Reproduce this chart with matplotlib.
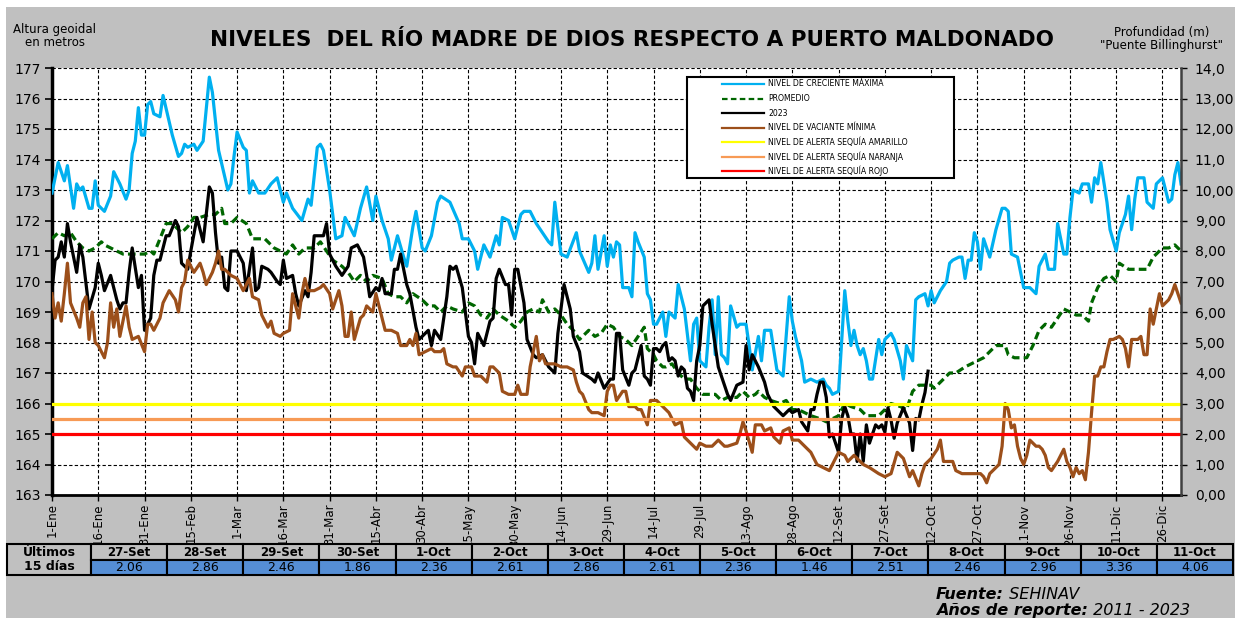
import matplotlib.pyplot as plt
from matplotlib.patches import Rectangle
from matplotlib.lines import Line2D
from matplotlib.text import Annotation

plt.rcParams['font.family'] = ['DejaVu Sans']

# ---- data (altura geoidal en metros, dia del anio) ----
maxima = [
    (0, 172.9), (2, 173.9), (4, 173.3), (5, 173.8), (7, 172.4), (8, 173.2), (9, 173.0), (10, 173.1), (12, 172.4), (13, 172.4),
    (14, 173.3), (15, 172.5), (17, 172.3), (19, 172.8), (20, 173.6), (22, 173.2), (24, 172.7), (25, 173.0), (26, 174.2), (27, 174.6),
    (28, 175.7), (29, 174.8), (30, 174.8), (31, 175.8), (32, 175.9), (33, 175.5), (35, 175.4), (36, 176.1), (39, 174.8), (41, 174.1),
    (42, 174.2), (43, 174.5), (44, 174.4), (46, 174.5), (47, 174.3), (49, 174.6), (51, 176.7), (52, 176.2), (54, 174.3), (57, 173.0),
    (58, 173.2), (59, 174.1), (60, 174.9), (62, 174.4), (63, 174.3), (64, 172.9), (65, 173.3), (67, 172.9), (69, 172.9), (71, 173.2),
    (73, 173.4), (75, 172.6), (76, 172.9), (78, 172.4), (81, 172.0), (83, 172.7), (84, 172.5), (86, 174.4), (87, 174.5), (88, 174.3),
    (90, 173.0), (92, 171.4), (94, 171.5), (95, 172.1), (97, 171.7), (98, 171.5), (100, 172.4), (102, 173.1), (104, 172.0), (105, 172.8),
    (107, 172.0), (109, 171.4), (110, 170.7), (112, 171.5), (114, 170.8), (115, 170.5), (117, 171.8), (118, 172.3), (120, 171.1), (121, 171.0),
    (123, 171.5), (125, 172.6), (126, 172.8), (129, 172.6), (132, 171.9), (133, 171.4), (135, 171.4), (137, 171.0), (138, 170.4), (140, 171.2),
    (142, 170.8), (144, 171.5), (145, 171.2), (146, 172.1), (148, 172.0), (150, 171.4), (152, 172.2), (153, 172.3), (155, 172.3), (157, 171.9),
    (159, 171.6), (161, 171.3), (162, 171.2), (163, 172.6), (165, 170.9), (167, 170.8), (170, 171.6), (171, 171.0), (174, 170.3), (175, 170.6),
    (176, 171.5), (177, 170.4), (179, 171.5), (180, 170.5), (181, 171.2), (182, 170.8), (183, 171.3), (184, 171.2), (185, 169.8), (187, 169.8),
    (188, 169.5), (189, 171.6), (190, 171.3), (192, 170.8), (193, 169.6), (194, 169.4), (195, 168.6), (196, 168.6), (198, 169.0), (199, 168.2),
    (200, 169.0), (202, 168.8), (203, 169.9), (205, 169.1), (207, 167.4), (208, 168.6), (209, 168.8), (210, 167.4), (212, 167.2), (213, 168.5),
    (214, 169.4), (215, 167.6), (216, 169.5), (217, 167.6), (218, 167.5), (219, 167.3), (220, 169.2), (222, 168.5), (223, 168.6), (225, 168.6),
    (226, 167.9), (227, 167.1), (229, 168.2), (230, 167.4), (231, 168.4), (233, 168.4), (235, 167.1), (237, 166.9), (239, 169.5), (240, 168.7),
    (241, 168.2), (243, 167.4), (244, 166.7), (246, 166.8), (248, 166.7), (250, 166.8), (251, 166.6), (252, 166.5), (253, 166.3), (255, 166.4),
    (257, 169.7), (258, 168.7), (259, 167.9), (260, 168.4), (261, 167.9), (262, 167.6), (263, 167.8), (264, 167.4), (265, 166.8), (266, 166.8),
    (268, 168.1), (269, 167.6), (270, 168.1), (272, 168.3), (273, 168.1), (275, 167.4), (276, 166.8), (277, 167.9), (279, 167.4), (280, 169.4),
    (281, 169.5), (283, 169.6), (284, 169.2), (285, 169.7), (286, 169.3), (288, 169.7), (290, 170.0), (291, 170.6), (292, 170.7), (294, 170.8),
    (295, 170.8), (296, 170.1), (297, 170.7), (298, 170.7), (299, 171.6), (300, 171.3), (301, 170.4), (302, 171.4), (303, 171.1), (304, 170.8),
    (306, 171.7), (308, 172.4), (309, 172.4), (310, 172.3), (311, 170.9), (313, 170.8), (314, 170.3), (315, 169.8), (317, 169.8), (319, 169.6),
    (320, 170.5), (322, 170.9), (323, 170.4), (325, 170.4), (326, 171.9), (328, 170.9), (329, 170.9), (330, 172.1), (331, 173.0), (333, 172.9),
    (334, 173.2), (336, 173.2), (337, 172.6), (338, 173.4), (339, 173.2), (340, 173.9), (342, 172.6), (343, 171.7), (345, 171.0), (346, 171.6),
    (348, 172.2), (349, 172.8), (350, 171.7), (351, 172.7), (352, 173.4), (354, 173.4), (355, 172.6), (357, 172.4), (358, 173.2), (360, 173.4),
    (362, 172.6), (363, 172.7), (364, 173.5), (365, 173.9), (366, 173.2),
]

promedio = [
    (0, 171.4), (2, 171.6), (4, 171.5), (6, 171.6), (8, 171.3), (10, 171.1), (12, 171.0), (14, 171.1), (16, 171.3), (17, 171.2),
    (19, 171.1), (21, 171.0), (23, 170.9), (25, 170.9), (27, 170.9), (30, 170.9), (32, 171.0), (33, 170.9), (35, 171.4), (37, 171.9),
    (39, 171.9), (42, 171.6), (44, 171.8), (46, 172.1), (48, 172.1), (51, 172.2), (53, 172.2), (55, 172.4), (56, 171.9), (58, 171.9),
    (60, 172.1), (63, 171.9), (65, 171.4), (67, 171.4), (69, 171.4), (72, 171.1), (74, 171.0), (76, 170.9), (78, 171.2), (80, 170.9),
    (82, 171.1), (85, 171.1), (87, 171.3), (89, 171.0), (91, 170.7), (94, 170.5), (96, 170.3), (98, 170.0), (100, 170.2), (102, 170.0),
    (104, 170.2), (107, 170.1), (109, 169.6), (111, 169.5), (113, 169.5), (115, 169.3), (117, 169.6), (120, 169.4), (122, 169.2), (124, 169.2),
    (126, 169.0), (128, 169.2), (130, 169.1), (133, 169.0), (135, 169.3), (137, 169.2), (139, 168.9), (141, 168.8), (143, 169.1), (145, 168.9),
    (148, 168.7), (150, 168.5), (152, 168.7), (154, 169.0), (156, 169.1), (158, 169.0), (159, 169.4), (161, 169.0), (163, 169.1), (165, 168.9),
    (167, 168.6), (169, 168.4), (171, 168.1), (174, 168.4), (176, 168.2), (178, 168.3), (180, 168.6), (182, 168.5), (184, 168.2), (186, 168.1),
    (188, 167.9), (190, 168.2), (192, 168.5), (193, 167.8), (195, 167.6), (196, 167.4), (198, 167.2), (199, 167.2), (201, 167.3), (203, 167.0),
    (205, 166.8), (207, 166.8), (209, 166.5), (211, 166.3), (213, 166.3), (215, 166.3), (217, 166.1), (219, 166.2), (222, 166.2), (224, 166.4),
    (226, 166.2), (228, 166.3), (229, 166.4), (231, 166.2), (233, 166.1), (236, 166.0), (238, 166.1), (240, 165.8), (242, 165.8), (244, 165.7),
    (246, 165.6), (249, 165.5), (251, 165.4), (253, 165.5), (255, 165.6), (257, 166.0), (259, 165.9), (262, 165.8), (264, 165.6), (266, 165.6),
    (268, 165.6), (270, 165.8), (272, 166.0), (275, 165.9), (277, 165.8), (279, 166.4), (281, 166.6), (283, 166.6), (285, 166.6), (286, 166.5),
    (289, 166.8), (291, 167.0), (293, 167.0), (296, 167.2), (298, 167.3), (300, 167.4), (302, 167.5), (304, 167.7), (306, 167.9), (309, 167.9),
    (310, 167.6), (312, 167.5), (314, 167.5), (316, 167.5), (318, 167.9), (320, 168.4), (322, 168.6), (324, 168.5), (326, 168.8), (328, 169.1),
    (330, 169.0), (332, 168.9), (334, 168.9), (336, 168.7), (337, 169.3), (339, 169.8), (341, 170.1), (343, 170.2), (345, 170.0), (346, 170.6),
    (349, 170.4), (351, 170.4), (353, 170.4), (355, 170.4), (357, 170.8), (360, 171.1), (362, 171.1), (364, 171.2), (366, 171.0),
]

anio_2023 = [
    (0, 169.7), (1, 170.7), (2, 170.8), (3, 171.3), (4, 170.8), (5, 171.9), (6, 171.3), (8, 170.3), (9, 171.2), (10, 170.8),
    (12, 169.1), (14, 169.8), (15, 170.6), (16, 170.2), (17, 169.7), (19, 170.2), (21, 169.4), (22, 169.1), (23, 169.3), (24, 169.3),
    (25, 170.3), (26, 171.1), (28, 169.8), (29, 170.2), (30, 168.4), (32, 168.8), (33, 170.2), (34, 170.7), (35, 170.7), (37, 171.5),
    (38, 171.5), (40, 172.0), (41, 171.8), (42, 170.6), (44, 170.4), (45, 171.0), (47, 172.1), (48, 171.7), (49, 171.3), (51, 173.1),
    (52, 172.9), (53, 171.6), (54, 170.6), (55, 170.8), (56, 169.8), (57, 169.7), (58, 171.0), (60, 171.0), (62, 170.6), (63, 169.7),
    (65, 171.1), (66, 169.7), (67, 169.8), (68, 170.5), (70, 170.4), (71, 170.3), (73, 170.0), (74, 169.9), (75, 170.7), (76, 170.1),
    (78, 170.2), (79, 169.6), (80, 169.2), (82, 169.7), (83, 169.5), (84, 170.3), (85, 171.5), (87, 171.5), (88, 171.5), (89, 171.9),
    (90, 170.9), (92, 170.5), (94, 170.2), (96, 170.5), (97, 171.1), (99, 171.2), (101, 170.8), (102, 170.2), (103, 169.5), (105, 169.8),
    (106, 169.7), (107, 170.1), (108, 169.6), (110, 169.6), (111, 170.4), (112, 170.4), (113, 170.9), (115, 169.9), (116, 169.6), (118, 168.5),
    (119, 168.1), (122, 168.4), (123, 167.9), (124, 168.4), (126, 168.1), (128, 169.5), (129, 170.5), (130, 170.4), (131, 170.5), (133, 169.8),
    (135, 168.2), (136, 168.0), (137, 167.3), (138, 168.3), (140, 167.9), (142, 168.7), (143, 168.8), (144, 170.1), (145, 170.4), (147, 169.9),
    (148, 169.9), (149, 168.9), (150, 170.4), (151, 170.4), (153, 169.3), (154, 168.1), (156, 167.6), (157, 167.5), (159, 167.6), (161, 167.2),
    (163, 167.0), (164, 168.3), (166, 169.9), (168, 169.1), (169, 168.2), (171, 167.7), (172, 167.0), (175, 166.8), (176, 166.7), (177, 167.0),
    (179, 166.5), (181, 166.8), (182, 166.8), (183, 168.3), (184, 168.3), (185, 167.1), (187, 166.6), (188, 167.0), (189, 167.1), (191, 167.9),
    (192, 166.9), (193, 166.8), (194, 166.6), (195, 167.8), (196, 167.8), (197, 167.7), (198, 167.9), (199, 168.0), (200, 167.4), (201, 167.5),
    (202, 167.4), (203, 166.9), (204, 167.2), (205, 167.1), (206, 166.5), (207, 166.4), (208, 166.1), (209, 167.4), (210, 167.9), (211, 169.2),
    (213, 169.4), (214, 168.6), (216, 167.2), (218, 166.6), (219, 166.3), (220, 166.1), (222, 166.6), (224, 166.7), (225, 167.9), (226, 167.1),
    (227, 167.6), (229, 167.2), (231, 166.7), (232, 166.3), (234, 165.9), (237, 165.6), (239, 165.8), (240, 165.7), (242, 165.8), (243, 165.4),
    (245, 165.1), (246, 165.8), (247, 165.8), (248, 166.3), (249, 166.7), (250, 166.7), (251, 166.2), (252, 164.9), (253, 165.0), (255, 164.4),
    (256, 165.5), (257, 165.9), (258, 165.6), (259, 165.0), (260, 165.0), (261, 164.1), (262, 165.0), (263, 164.1), (264, 165.3), (265, 164.7),
    (267, 165.3), (268, 165.2), (269, 165.3),
]

minima = [
    (0, 169.6), (1, 168.8), (2, 169.3), (3, 168.7), (4, 169.6), (5, 170.6), (6, 169.3), (8, 168.8), (9, 168.5), (10, 169.3),
    (11, 169.5), (12, 168.1), (13, 169.0), (14, 168.0), (15, 167.9), (17, 167.5), (18, 168.0), (19, 169.3), (20, 168.5), (21, 169.1),
    (22, 168.2), (24, 169.2), (25, 168.5), (26, 168.1), (28, 168.2), (30, 167.7), (31, 168.6), (32, 168.6), (33, 168.4), (35, 168.8),
    (36, 169.3), (38, 169.7), (40, 169.4), (41, 169.0), (42, 169.8), (43, 170.0), (44, 170.7), (46, 170.3), (48, 170.6), (49, 170.3),
    (50, 169.9), (52, 170.3), (53, 170.6), (54, 171.0), (55, 170.4), (56, 170.4), (58, 170.2), (60, 170.1), (62, 169.7), (64, 170.1),
    (65, 169.5), (67, 169.4), (68, 168.9), (70, 168.5), (71, 168.7), (72, 168.3), (74, 168.2), (75, 168.3), (77, 168.4), (78, 169.6),
    (79, 169.2), (80, 168.8), (81, 169.6), (82, 170.1), (83, 169.7), (85, 169.7), (87, 169.8), (88, 169.9), (90, 169.6), (91, 169.1),
    (93, 169.7), (94, 169.2), (95, 168.2), (96, 168.2), (97, 169.0), (98, 168.1), (100, 168.8), (101, 168.9), (102, 169.2), (104, 169.0),
    (105, 169.6), (107, 168.8), (108, 168.4), (110, 168.4), (112, 168.3), (113, 167.9), (115, 167.9), (116, 168.1), (117, 167.9), (118, 168.3),
    (119, 167.6), (121, 167.7), (123, 167.8), (124, 167.7), (126, 167.7), (127, 167.8), (128, 167.3), (130, 167.2), (131, 167.2), (133, 166.9),
    (134, 167.2), (136, 167.2), (137, 166.9), (139, 166.9), (141, 166.7), (142, 167.2), (143, 167.2), (145, 167.0), (146, 166.4), (148, 166.3),
    (149, 166.3), (150, 166.3), (151, 166.6), (152, 166.3), (154, 166.3), (155, 167.2), (156, 167.7), (157, 168.2), (158, 167.4), (159, 167.6),
    (160, 167.3), (162, 167.3), (163, 167.3), (165, 167.2), (167, 167.2), (169, 167.1), (170, 166.7), (171, 166.4), (172, 166.3), (174, 165.8),
    (175, 165.7), (177, 165.7), (179, 165.6), (180, 166.4), (181, 166.6), (182, 166.6), (183, 166.1), (185, 166.4), (186, 166.4), (187, 165.9),
    (189, 165.9), (190, 165.8), (191, 165.8), (193, 165.3), (194, 166.1), (196, 166.1), (198, 165.9), (200, 165.7), (202, 165.3), (204, 165.4),
    (205, 164.9), (206, 164.8), (208, 164.6), (209, 164.5), (210, 164.7), (212, 164.6), (214, 164.6), (216, 164.8), (218, 164.6), (219, 164.6),
    (222, 164.7), (223, 165.0), (224, 165.4), (225, 165.1), (227, 164.4), (228, 165.3), (230, 165.3), (231, 165.1), (233, 165.2), (234, 164.9),
    (236, 164.7), (237, 165.1), (239, 165.2), (240, 164.8), (242, 164.8), (244, 164.6), (246, 164.4), (248, 164.0), (250, 163.9), (252, 163.8),
    (254, 164.2), (255, 164.4), (257, 164.3), (258, 164.1), (260, 164.3), (262, 164.1), (263, 164.0), (265, 163.9), (268, 163.7), (270, 163.6),
    (272, 163.7), (274, 164.4), (275, 164.3), (276, 164.2), (278, 163.6), (279, 163.8), (281, 163.3), (282, 163.7), (283, 164.0), (285, 164.2),
    (287, 164.5), (288, 164.8), (289, 164.1), (290, 164.1), (292, 164.1), (293, 163.8), (295, 163.7), (297, 163.7), (299, 163.7), (301, 163.7),
    (302, 163.6), (303, 163.4), (304, 163.7), (305, 163.8), (307, 164.0), (308, 164.6), (309, 166.0), (310, 165.8), (311, 165.2), (312, 165.3),
    (313, 164.6), (314, 164.2), (315, 164.0), (316, 164.3), (317, 164.8), (319, 164.6), (320, 164.6), (321, 164.5), (322, 164.3), (323, 163.9),
    (324, 163.8), (326, 164.1), (328, 164.5), (329, 164.1), (330, 163.9), (331, 163.6), (332, 163.9), (333, 163.7), (334, 163.8), (335, 163.5),
    (336, 164.4), (337, 165.7), (338, 166.9), (339, 166.9), (340, 167.2), (341, 167.2), (342, 167.7), (343, 168.1), (344, 168.1), (346, 168.2),
    (347, 168.1), (348, 167.8), (349, 167.2), (350, 168.1), (352, 168.1), (353, 168.2), (354, 167.6), (355, 167.6), (356, 169.1), (357, 168.6),
    (359, 169.6), (360, 169.2), (362, 169.4), (363, 169.6), (364, 169.9), (366, 169.3),
]

# niveles de alerta (altura geoidal)
alerta_amarillo = 166.0
alerta_naranja = 165.5
alerta_rojo = 165.0

# cota del cero de la regla "Puente Billinghurst"
cota_cero = 163.0

# tabla de los ultimos 15 dias (profundidad en m)
ultimos_fechas = ['27-Set', '28-Set', '29-Set', '30-Set', '1-Oct', '2-Oct', '3-Oct', '4-Oct',
                  '5-Oct', '6-Oct', '7-Oct', '8-Oct', '9-Oct', '10-Oct', '11-Oct']
ultimos_dias = list(range(270, 285))
ultimos_prof = [2.06, 2.86, 2.46, 1.86, 2.36, 2.61, 2.86, 2.61, 2.36, 1.46, 2.51, 2.46, 2.96, 3.36, 4.06]

x_ticks = list(range(0, 361, 15))
x_labels = ['1-Ene', '16-Ene', '31-Ene', '15-Feb', '1-Mar', '16-Mar', '31-Mar', '15-Abr', '30-Abr',
            '15-May', '30-May', '14-Jun', '29-Jun', '14-Jul', '29-Jul', '13-Ago', '28-Ago', '12-Set',
            '27-Set', '12-Oct', '27-Oct', '11-Nov', '26-Nov', '11-Dic', '26-Dic']
prof_labels = ['0,00', '1,00', '2,00', '3,00', '4,00', '5,00', '6,00', '7,00', '8,00', '9,00',
               '10,00', '11,0', '12,00', '13,00', '14,0']

# ---- figure in pixel layout ----
W, H = 1241, 618


def fx(x):
    return x / W


def fy(y):
    return 1 - y / H


GRAY = '#c0c0c0'
fig = plt.figure(figsize=(W / 100, H / 100), dpi=100)
fig.patch.set_facecolor('white')
fig.patches.append(Rectangle((fx(6), 0), fx(1235) - fx(6), fy(7), transform=fig.transFigure,
                             facecolor=GRAY, edgecolor='none', zorder=-1))

ax = fig.add_axes([fx(52), fy(495), fx(1181) - fx(52), fy(68) - fy(495)])
ax.set_facecolor('white')


def unzip(serie):
    return [p[0] for p in serie], [p[1] for p in serie]


lw = 2.3
d, v = unzip(maxima)
ax.plot(d, v, color='#00B0F0', lw=lw, zorder=3)
d, v = unzip(promedio)
ax.plot(d, v, color='#006600', lw=lw, ls=(0, (2.4, 1.3)), zorder=3)
d, v = unzip(anio_2023)
d = d + ultimos_dias
v = v + [cota_cero + p for p in ultimos_prof]
ax.plot(d, v, color='black', lw=lw, zorder=3)
d, v = unzip(minima)
ax.plot(d, v, color='#9C4F1A', lw=lw, zorder=3)
ax.axhline(alerta_amarillo, color='#FFFF00', lw=lw, zorder=4)
ax.axhline(alerta_naranja, color='#F79A55', lw=lw, zorder=4)
ax.axhline(alerta_rojo, color='#FF0000', lw=lw, zorder=4)

ax.set_xlim(0, 366)
ax.set_ylim(163, 177)
ax.set_yticks(range(163, 178))
ax.set_xticks(x_ticks)
ax.set_xticklabels(x_labels, rotation=90, fontsize=8.5)
ax.tick_params(axis='y', labelsize=10, direction='out', length=5, width=1.2, pad=3)
ax.tick_params(axis='x', direction='out', length=4, width=1, pad=2)
ax.grid(True, color='black', ls=(0, (3, 2)), lw=0.8)
ax.set_axisbelow(True)
ax.spines['top'].set_visible(False)
ax.spines['right'].set_visible(False)
ax.spines['left'].set_linewidth(2.5)
ax.spines['bottom'].set_linewidth(2)

ax2 = ax.twinx()
ax2.set_ylim(0, 14)
ax2.set_yticks(range(15))
ax2.set_yticklabels(prof_labels)
ax2.tick_params(axis='y', labelsize=10, direction='out', length=4, width=1, pad=6)
for s in ['top', 'left', 'bottom']:
    ax2.spines[s].set_visible(False)
ax2.spines['right'].set_linewidth(1.8)
ax2.spines['right'].set_color('#404040')

# ---- titles ----
fig.text(fx(632), fy(40), 'NIVELES  DEL RÍO MADRE DE DIOS RESPECTO A PUERTO MALDONADO',
         ha='center', va='center', fontsize=15.5, fontweight='bold')
fig.text(fx(55), fy(36), 'Altura geoidal\nen metros', ha='center', va='center',
         fontsize=8.5, linespacing=1.0)
fig.text(fx(1162), fy(39), 'Profundidad (m)\n"Puente Billinghurst"', ha='center', va='center',
         fontsize=8.5, linespacing=1.0)

# ---- legend box ----
leyenda = [('NIVEL DE CRECIENTE MÁXIMA', '#00B0F0', '-'),
           ('PROMEDIO', '#006600', (0, (2.5, 1.5))),
           ('2023', 'black', '-'),
           ('NIVEL DE VACIANTE MÍNIMA', '#9C4F1A', '-'),
           ('NIVEL DE ALERTA SEQUÍA AMARILLO', '#FFFF00', '-'),
           ('NIVEL DE ALERTA SEQUÍA NARANJA', '#F79A55', '-'),
           ('NIVEL DE ALERTA SEQUÍA ROJO', '#FF0000', '-')]
fig.patches.append(Rectangle((fx(687), fy(178)), fx(954) - fx(687), fy(77) - fy(178),
                             transform=fig.transFigure, facecolor='white', edgecolor='black',
                             lw=1.5, zorder=5))
for i, (lab, col, ls) in enumerate(leyenda):
    yy = 84 + 14.5 * i
    fig.add_artist(Line2D([fx(722), fx(764)], [fy(yy), fy(yy)], transform=fig.transFigure,
                          color=col, ls=ls, lw=1.6, zorder=6))
    fig.text(fx(768), fy(yy), lab, fontsize=5.6, va='center', ha='left', zorder=6)

# ---- table of last 15 days ----
top, mid, bot = 544, 560, 575
x0, x1 = 91, 1233
cw = (x1 - x0) / len(ultimos_fechas)
fig.patches.append(Rectangle((fx(7), fy(bot)), fx(x0) - fx(7), fy(top) - fy(bot),
                             transform=fig.transFigure, facecolor=GRAY, edgecolor='black', lw=1.5))
fig.text(fx((7 + x0) / 2), fy((top + bot) / 2), 'Últimos\n15 días', ha='center', va='center',
         fontsize=9, fontweight='bold', linespacing=1.15)
for i, (fecha, prof) in enumerate(zip(ultimos_fechas, ultimos_prof)):
    xa = x0 + i * cw
    fig.patches.append(Rectangle((fx(xa), fy(mid)), fx(cw), fy(top) - fy(mid),
                                 transform=fig.transFigure, facecolor=GRAY, edgecolor='black', lw=1.5))
    fig.patches.append(Rectangle((fx(xa), fy(bot)), fx(cw), fy(mid) - fy(bot),
                                 transform=fig.transFigure, facecolor='#558ED5', edgecolor='black', lw=1.5))
    fig.text(fx(xa + cw / 2), fy((top + mid) / 2), fecha, ha='center', va='center',
             fontsize=8.5, fontweight='bold')
    fig.text(fx(xa + cw / 2), fy((mid + bot) / 2), f'{prof:.2f}', ha='center', va='center',
             fontsize=9)

# ---- footer ----
t1 = fig.text(fx(936), fy(599), 'Fuente:', ha='left', va='baseline', fontsize=11.5,
              fontweight='bold', style='italic')
fig.add_artist(Annotation(' SEHINAV', xy=(1, 0), xycoords=t1, ha='left', va='bottom',
                          fontsize=11.5, style='italic'))
t2 = fig.text(fx(936), fy(615), 'Años de reporte:', ha='left', va='baseline', fontsize=11.5,
              fontweight='bold', style='italic')
fig.add_artist(Annotation(' 2011 - 2023', xy=(1, 0), xycoords=t2, ha='left', va='bottom',
                          fontsize=11.5, style='italic'))

fig.savefig('out.png', dpi=100, facecolor=fig.get_facecolor())
